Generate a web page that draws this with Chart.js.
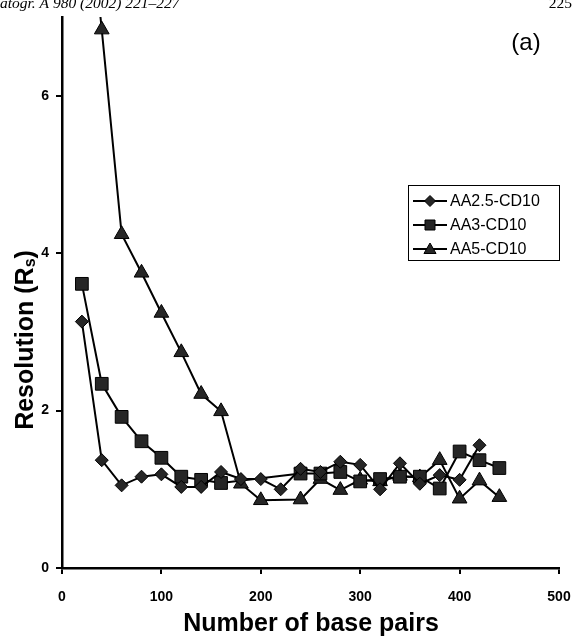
<!DOCTYPE html>
<html>
<head>
<meta charset="utf-8">
<script src="https://cdn.jsdelivr.net/npm/chart.js@4.4.0/dist/chart.umd.min.js"></script>
<style>
  html, body { margin: 0; padding: 0; background: #fff; }
  #box { width: 573px; height: 639px; position: relative; }
</style>
</head>
<body>
<div id="box"><canvas id="grafico"></canvas></div>
<script>
// number of base pairs (x) and resolution Rs (y) for each buffer
const bpAA25 = [20, 40, 60, 80, 100, 120, 140, 160, 180, 200, 220, 240, 260, 280, 300, 320, 340, 360, 380, 400, 420];
const rsAA25 = [3.13, 1.37, 1.05, 1.16, 1.19, 1.03, 1.03, 1.22, 1.13, 1.13, 1.0, 1.26, 1.22, 1.35, 1.31, 1.0, 1.33, 1.07, 1.18, 1.12, 1.56];

const bpAA3 = [20, 40, 60, 80, 100, 120, 140, 160, 240, 260, 280, 300, 320, 340, 360, 380, 400, 420, 440];
const rsAA3 = [3.61, 2.34, 1.92, 1.61, 1.40, 1.16, 1.12, 1.08, 1.20, 1.20, 1.22, 1.10, 1.13, 1.16, 1.16, 1.01, 1.48, 1.37, 1.27];

const bpAA5 = [20, 40, 60, 80, 100, 120, 140, 160, 180, 200, 240, 260, 280, 300, 320, 340, 360, 380, 400, 420, 440];
const rsAA5 = [9.3, 6.84, 4.24, 3.75, 3.24, 2.74, 2.21, 1.99, 1.07, 0.86, 0.87, 1.13, 0.99, 1.12, 1.10, 1.17, 1.15, 1.37, 0.88, 1.11, 0.90];

const seriesNames = ['AA2.5-CD10', 'AA3-CD10', 'AA5-CD10'];
const xTicks = [0, 100, 200, 300, 400, 500];
const yTicks = [0, 2, 4, 6];

const FILL = '#262626';

function pontos(xs, ys) {
  return xs.map((x, i) => ({ x: x, y: ys[i] }));
}

function marca(ctx, estilo, x, y, r) {
  ctx.beginPath();
  if (estilo === 'rectRot') {
    ctx.moveTo(x, y - r); ctx.lineTo(x + r, y); ctx.lineTo(x, y + r); ctx.lineTo(x - r, y);
  } else if (estilo === 'rect') {
    ctx.rect(x - r, y - r, 2 * r, 2 * r);
  } else {
    ctx.moveTo(x, y - r);
    ctx.lineTo(x + r * 0.866, y + r / 2);
    ctx.lineTo(x - r * 0.866, y + r / 2);
  }
  ctx.closePath();
  ctx.fillStyle = FILL;
  ctx.fill();
  ctx.lineWidth = 1;
  ctx.strokeStyle = '#000';
  ctx.stroke();
}

const enfeites = {
  id: 'enfeites',
  afterDraw(chart) {
    const ctx = chart.ctx;
    ctx.save();
    ctx.fillStyle = '#000';

    // journal header, cut at the top
    ctx.font = 'italic 15.5px "Liberation Serif"';
    ctx.textAlign = 'left';
    ctx.textBaseline = 'alphabetic';
    ctx.fillText('atogr. A 980 (2002) 221–227', 0, 7.5);
    ctx.font = '15.5px "Liberation Serif"';
    ctx.textAlign = 'right';
    ctx.fillText('225', 572, 7.5);

    // panel label
    ctx.font = '24px "Liberation Sans"';
    ctx.textAlign = 'center';
    ctx.textBaseline = 'middle';
    ctx.fillText('(a)', 526, 43);

    // x title
    ctx.font = 'bold 25px "Liberation Sans"';
    ctx.textBaseline = 'alphabetic';
    ctx.fillText('Number of base pairs', 311, 631);

    // y title with subscript
    ctx.save();
    ctx.translate(26, 340);
    ctx.rotate(-Math.PI / 2);
    ctx.textBaseline = 'middle';
    ctx.textAlign = 'left';
    const f1 = 'bold 25px "Liberation Sans"', f2 = 'bold 16px "Liberation Sans"';
    ctx.font = f1;
    const w1 = ctx.measureText('Resolution (R').width;
    const w3 = ctx.measureText(')').width;
    ctx.font = f2;
    const w2 = ctx.measureText('s').width;
    let x0 = -(w1 + w2 + w3) / 2;
    ctx.font = f1;
    ctx.fillText('Resolution (R', x0, 0);
    ctx.font = f2;
    ctx.fillText('s', x0 + w1, 5);
    ctx.font = f1;
    ctx.fillText(')', x0 + w1 + w2, 0);
    ctx.restore();

    // legend
    ctx.lineWidth = 1;
    ctx.strokeStyle = '#000';
    ctx.strokeRect(408.5, 185.5, 151, 75);
    const estilos = ['rectRot', 'rect', 'triangle'];
    const raios = [5.5, 5, 7];
    const linhas = [201, 225, 249];
    ctx.font = '16px "Liberation Sans"';
    ctx.textAlign = 'left';
    ctx.textBaseline = 'middle';
    seriesNames.forEach((nome, i) => {
      const y = linhas[i];
      ctx.beginPath();
      ctx.moveTo(413, y); ctx.lineTo(447, y);
      ctx.lineWidth = 2; ctx.strokeStyle = '#000';
      ctx.stroke();
      marca(ctx, estilos[i], 430, y + (i === 2 ? 1 : 0), raios[i]);
      ctx.fillStyle = '#000';
      ctx.fillText(nome, 450, y + 1);
    });
    ctx.restore();
  }
};

function serie(label, xs, ys, estilo, raio) {
  return {
    label: label,
    data: pontos(xs, ys),
    showLine: true,
    borderColor: '#000',
    borderWidth: 2,
    pointStyle: estilo,
    pointRadius: raio,
    pointHoverRadius: raio,
    pointBackgroundColor: FILL,
    pointBorderColor: '#000',
    pointBorderWidth: 1,
  };
}

function configurar() {
  const canvas = document.getElementById('grafico');
  new Chart(canvas, {
    type: 'scatter',
    data: {
      datasets: [
        serie(seriesNames[0], bpAA25, rsAA25, 'rectRot', 6.5),
        serie(seriesNames[1], bpAA3, rsAA3, 'rect', 9),
        serie(seriesNames[2], bpAA5, rsAA5, 'triangle', 8.5),
      ],
    },
    options: {
      responsive: true,
      maintainAspectRatio: false,
      animation: false,
      layout: { padding: { left: 0, top: 17, right: 14, bottom: 0 } },
      plugins: { legend: { display: false }, tooltip: { enabled: false } },
      scales: {
        x: {
          type: 'linear',
          min: 0,
          max: 500,
          afterBuildTicks: (s) => { s.ticks = xTicks.map((v) => ({ value: v })); },
          afterFit: (s) => { s.height = 71; s.paddingLeft = 0; s.paddingRight = 0; },
          ticks: { color: '#000', padding: 15, maxRotation: 0, font: { family: 'Liberation Sans', weight: 'bold', size: 14 } },
          grid: { drawOnChartArea: false, tickLength: 6, color: '#000', lineWidth: 2 },
          border: { color: '#000', width: 2.5 },
        },
        y: {
          min: 0,
          max: 7,
          afterBuildTicks: (s) => { s.ticks = yTicks.map((v) => ({ value: v })); },
          afterFit: (s) => { s.width = 62; s.paddingTop = 0; s.paddingBottom = 0; },
          ticks: { color: '#000', padding: 7, font: { family: 'Liberation Sans', weight: 'bold', size: 14 } },
          grid: { drawOnChartArea: false, tickLength: 6, color: '#000', lineWidth: 2 },
          border: { color: '#000', width: 2.5 },
        },
      },
    },
    plugins: [enfeites],
  });
}

document.addEventListener('DOMContentLoaded', configurar);
</script>
</body>
</html>
